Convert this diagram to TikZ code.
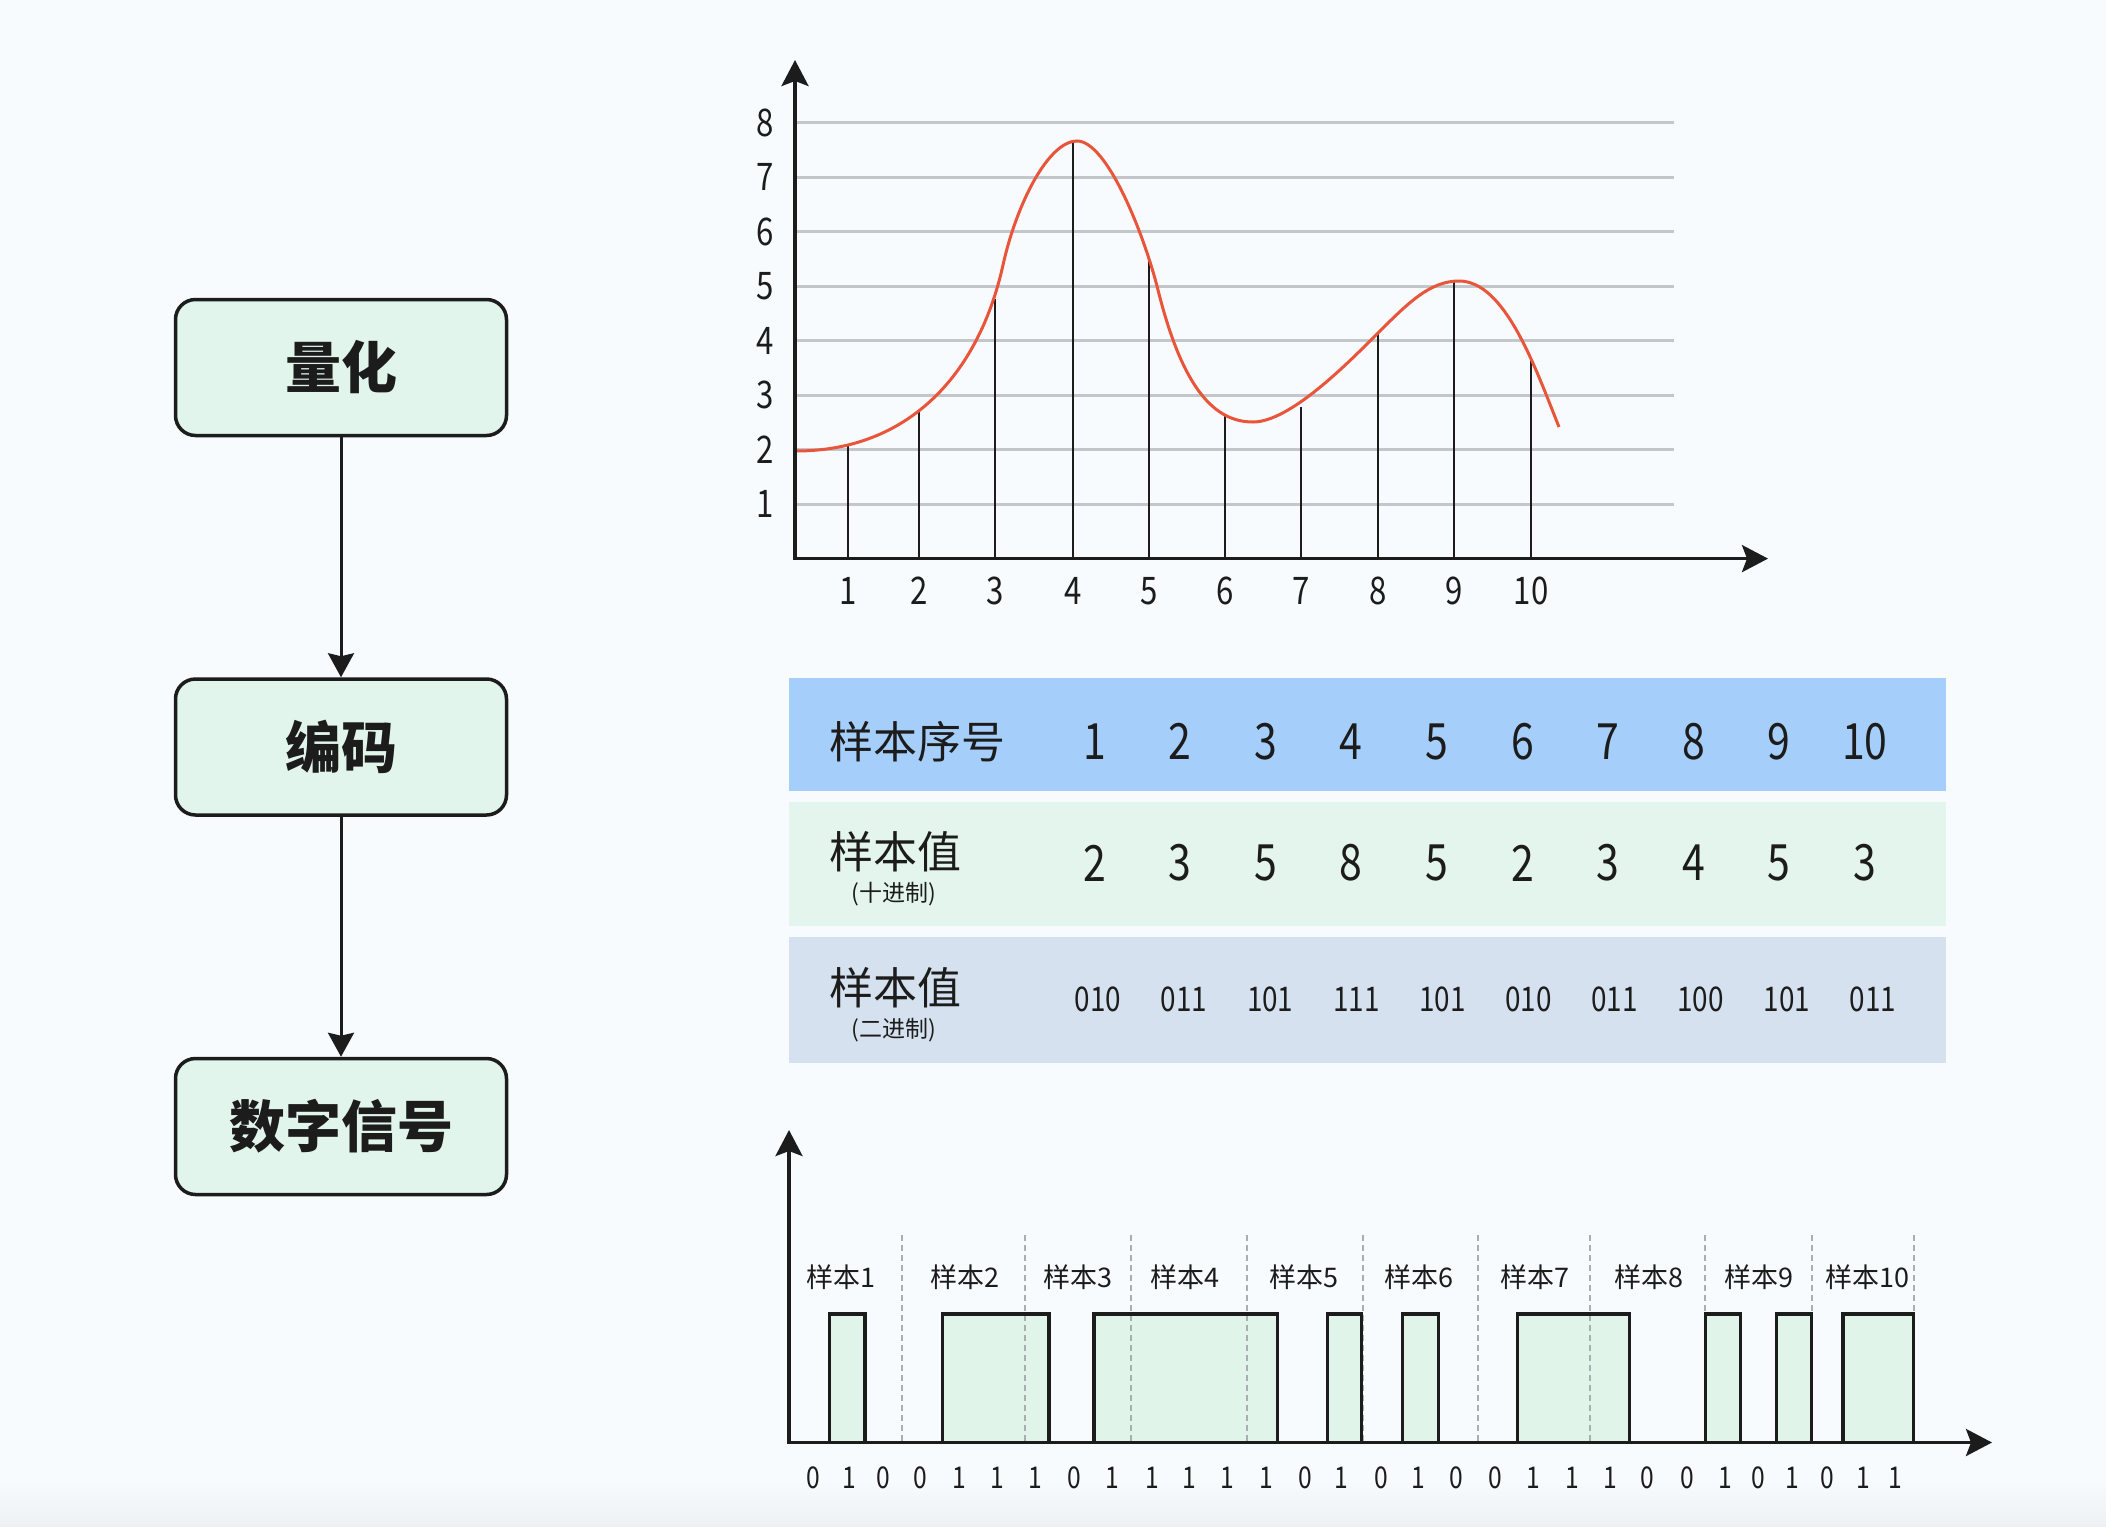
\documentclass[tikz,border=0pt]{standalone}
\usepackage{fontspec}
\setmainfont{Noto Sans CJK SC}
\newfontfamily\dig{Noto Sans CJK SC}[FakeStretch=0.82]
\usetikzlibrary{arrows.meta}
\definecolor{bgc}{HTML}{F7FBFE}
\definecolor{bgb}{HTML}{EDF1F4}
\definecolor{boxfill}{HTML}{E2F5EC}
\definecolor{rowa}{HTML}{A5CFFA}
\definecolor{rowb}{HTML}{E3F5EC}
\definecolor{rowc}{HTML}{D5E1EE}
\definecolor{pulsefill}{HTML}{E1F4EA}
\definecolor{gridc}{HTML}{C3C6CA}
\definecolor{curvec}{HTML}{E8553A}
\definecolor{ink}{HTML}{1C1C1C}
\definecolor{dashc}{HTML}{A9AEB3}
\tikzset{
 flowbox/.style={draw=ink, line width=3.5pt, rounded corners=20pt, fill=boxfill, minimum width=331pt, minimum height=136pt, inner sep=0pt, font=\fontsize{56}{60}\selectfont\bfseries, text=ink},
 flowarrow/.style={draw=ink, line width=3pt, -{Stealth[length=24pt,width=26pt,inset=3pt]}},
 axisline/.style={draw=ink, line width=3.5pt, line join=miter, {Stealth[length=26pt,width=27pt,inset=5pt]}-{Stealth[length=26pt,width=27pt,inset=5pt]}},
 gridline/.style={draw=gridc, line width=3pt},
 sampleline/.style={draw=ink, line width=2.5pt},
 curveline/.style={draw=curvec, line width=3pt},
 ticklabel/.style={font=\fontsize{38}{40}\dig, text=ink, inner sep=0pt},
 rowbg/.style={minimum width=1157pt, inner sep=0pt, anchor=north west, draw=none},
 rowlabel/.style={font=\fontsize{44}{48}\selectfont, text=ink, anchor=west, inner sep=0pt},
 rowsub/.style={font=\fontsize{23}{24}\selectfont, text=ink, inner sep=0pt},
 bignum/.style={font=\fontsize{50}{52}\dig, text=ink, inner sep=0pt},
 binnum/.style={font=\fontsize{34}{36}\dig, text=ink, inner sep=0pt},
 pulse/.style={draw=ink, line width=3.5pt, line join=miter},
 sepline/.style={draw=dashc, line width=2pt, dash pattern=on 6pt off 4pt},
 smplabel/.style={font=\fontsize{27}{28}\selectfont, text=ink, inner sep=0pt},
 bitlabel/.style={font=\fontsize{30}{32}\dig, text=ink, inner sep=0pt},
}
\begin{document}
\begin{tikzpicture}[x=1pt,y=-1pt]
\useasboundingbox (0,0) rectangle (2106,1526);
\fill[bgc] (0,0) rectangle (2106,1526);
\shade[top color=bgc, bottom color=bgb] (0,1480) rectangle (2106,1526);

% flow
\node[flowbox] (q) at (341,367.5) {量化};
\node[flowbox] (e) at (341,747) {编码};
\node[flowbox] (d) at (341,1126.5) {数字信号};
\draw[flowarrow] (q) -- (e);
\draw[flowarrow] (e) -- (d);

% chart 1
\coordinate (o1) at (795,558.6);
\coordinate (yt1) at (795,60);
\coordinate (xt1) at (1768,558.6);
\foreach \v in {1,...,8} {
  \draw[gridline] (795,{558.6-54.5*\v}) -- (1674,{558.6-54.5*\v});
  \node[ticklabel] (yl\v) at (765,{558.6-54.5*\v}) {\v};
}
\foreach \x/\t [count=\i] in {848/445,919/411,995/299,1073/142,1149/261,1225/416,1301/407,1378/334,1454/282,1531/359} {
  \draw[sampleline] (\x,558.6) -- (\x,\t);
  \node[ticklabel] (xl\i) at (\x,591) {\i};
}
\draw[curveline] (796,451) .. controls (906,451) and (978,377.5) .. (1003,265)
  .. controls (1017,202) and (1049,141) .. (1077,141)
  .. controls (1107,141) and (1144,234) .. (1158,290)
  .. controls (1183,390) and (1215,422) .. (1253,422)
  .. controls (1290,422) and (1348,363) .. (1378,333)
  .. controls (1408,303) and (1430,281) .. (1459,281)
  .. controls (1505,281) and (1535,367) .. (1559,427);
\draw[axisline] (yt1) -- (o1) -- (xt1);

% table
\node[rowbg, fill=rowa, minimum height=113pt] (ra) at (789,678) {};
\node[rowbg, fill=rowb, minimum height=124pt] (rb) at (789,802) {};
\node[rowbg, fill=rowc, minimum height=126pt] (rc) at (789,937) {};
\node[rowlabel] (la) at (829,741.7) {样本序号};
\foreach \i in {1,...,10} \node[bignum] (na\i) at ({1094.5+85.6*(\i-1)},741.7) {\i};
\node[rowlabel] (lb) at (829,851.7) {样本值};
\node[rowsub] (sb) at (894,894) {(十进制)};
\foreach \val [count=\i] in {2,3,5,8,5,2,3,4,5,3} \node[bignum] (nb\i) at ({1094.5+85.6*(\i-1)},863) {\val};
\node[rowlabel] (lc) at (829,988) {样本值};
\node[rowsub] (sc) at (894,1030) {(二进制)};
\foreach \val [count=\i] in {010,011,101,111,101,010,011,100,101,011} \node[binnum] (nc\i) at ({1098+86.1*(\i-1)},999) {\val};

% chart 2
\coordinate (o2) at (789,1442.5);
\coordinate (yt2) at (789,1130);
\coordinate (xt2) at (1992,1442.5);
\foreach \a/\b in {829.3/864.9,942.4/1049.2,1094.2/1277.7,1327.5/1361.5,1402.7/1438.3,1517.3/1629.6,1705.5/1740.3,1776.7/1811.5,1843.2/1913.5}
  \fill[pulsefill] (\a,1314) rectangle (\b,1442.5);
\foreach \x in {902,1024.6,1131.4,1246.9,1363.1,1477.8,1590.1,1704.7,1812.3,1914.3}
  \draw[sepline] (\x,1235) -- (\x,1442.5);
\foreach \a/\b in {829.3/864.9,942.4/1049.2,1094.2/1277.7,1327.5/1361.5,1402.7/1438.3,1517.3/1629.6,1705.5/1740.3,1776.7/1811.5,1843.2/1913.5}
  \draw[pulse] (\a,1442.5) -- (\a,1314) -- (\b,1314) -- (\b,1442.5);
\draw[axisline] (yt2) -- (o2) -- (xt2);
\foreach \x [count=\i] in {841,965,1078,1185,1304,1418.5,1534.7,1649.4,1758.5,1867.7}
  \node[smplabel] (sl\i) at (\x,1277) {样本\i};
\foreach \x/\b [count=\i] in {813.5/0,849.1/1,883.1/0,920.3/0,959.8/1,997.8/1,1034.9/1,1074.5/0,1112.4/1,1152.0/1,1189.1/1,1227.1/1,1265.9/1,1305.4/0,1341.8/1,1381.3/0,1418.5/1,1456.4/0,1495.2/0,1533.1/1,1572.7/1,1610.6/1,1647.8/0,1687.4/0,1725.3/1,1758.5/0,1792.6/1,1827.4/0,1863.7/1,1895.4/1}
  \node[bitlabel] (bt\i) at (\x,1478) {\b};
\end{tikzpicture}
\end{document}
